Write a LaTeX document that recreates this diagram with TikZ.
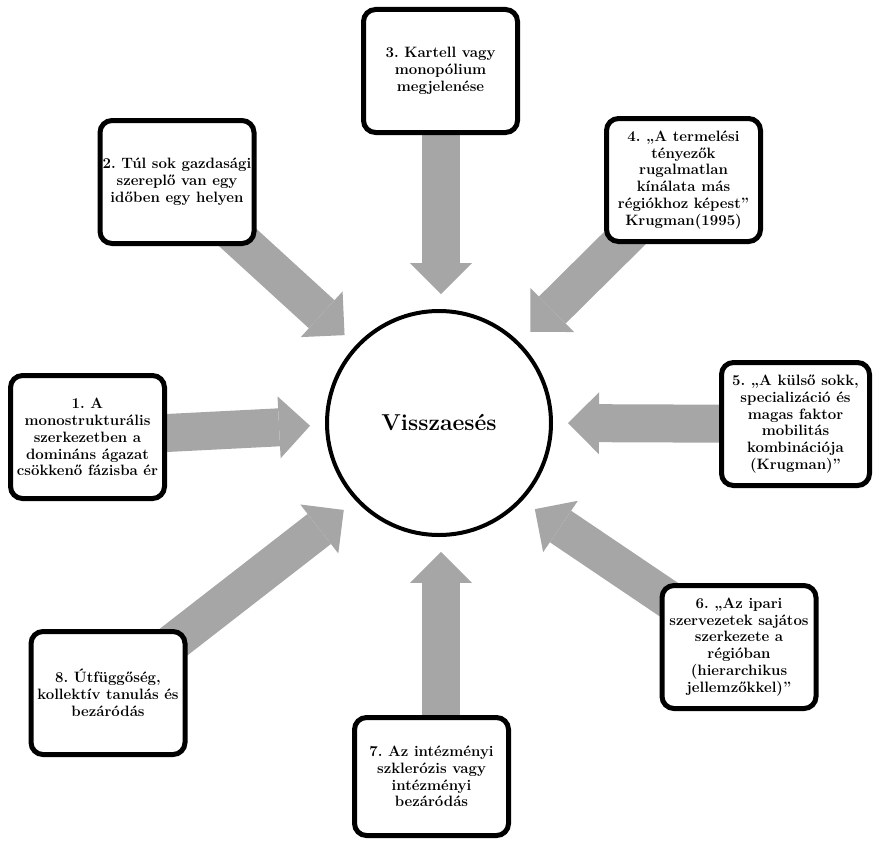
\documentclass[tikz,border=0pt]{standalone}
\usepackage{fontspec}
\usetikzlibrary{arrows.meta,backgrounds}
\definecolor{arrowgray}{RGB}{166,166,166}

\begin{document}
\begin{tikzpicture}[x=1pt,y=-1pt,
	every node/.style={draw,fill=white,line width=5pt,rounded corners=12pt,align=center,inner sep=1pt,minimum width=154pt,minimum height=123pt,font=\bfseries\frenchspacing\fontsize{15}{16.8}\selectfont},
	push/.style={draw=arrowgray,line width=38pt,-{Triangle[length=31pt,width=62pt,line width=0pt]},shorten >=15pt}]

\useasboundingbox (0,0) rectangle (874,840);

\node[circle,sharp corners,line width=4pt,minimum size=224pt,font=\bfseries\fontsize{23}{28}\selectfont](v) at (439,423) {Visszaesés};

\node(1) at (87.5,437) {1. A\\monostrukturális\\szerkezetben a\\domináns ágazat\\csökkenő fázisba ér};
\node(2) at (177,182) {2. Túl sok gazdasági\\szereplő van egy\\időben egy helyen};
\node(3) at (440.5,71) {3. Kartell vagy\\monopólium\\megjelenése};
\node(4) at (683.5,180) {4. „A termelési\\tényezők\\rugalmatlan\\kínálata más\\régiókhoz képest”\\Krugman(1995)};
\node[minimum width=148pt](5) at (795.5,424) {5. „A külső sokk,\\specializáció és\\magas faktor\\mobilitás\\kombinációja\\(Krugman)”};
\node(6) at (739,647) {6. „Az ipari\\szervezetek sajátos\\szerkezete a\\régióban\\(hierarchikus\\jellemzőkkel)”};
\node[minimum height=118pt](7) at (431.5,776.5) {7. Az intézményi\\szklerózis vagy\\intézményi\\bezáródás};
\node(8) at (108,693) {8. Útfüggőség,\\kollektív tanulás és\\bezáródás};

\begin{scope}[on background layer]
\foreach \n/\a in {1/181,2/137,4/45,5/0,6/-43,8/223}{
	\draw[push](\n.center)--(v.\a);
}
\foreach \n/\a in {3/89,7/-89}{
	\draw[push](\n.center -| v.\a)--(v.\a);
}
\end{scope}
\end{tikzpicture}
\end{document}
